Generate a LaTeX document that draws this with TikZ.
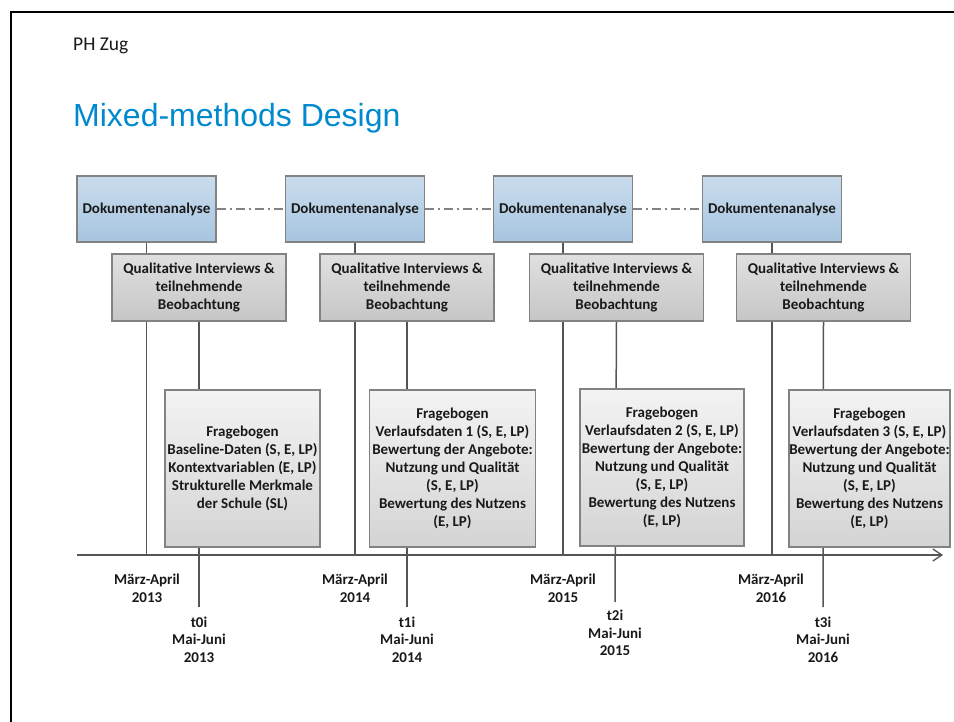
\documentclass[tikz,border=0pt]{standalone}
\usepackage{fontspec}
\setmainfont{Carlito}
\newfontfamily\arialfont{Liberation Sans}
\usetikzlibrary{arrows.meta,backgrounds}
\definecolor{titleblue}{RGB}{0,137,207}
\definecolor{dokT}{RGB}{202,220,237}
\definecolor{dokB}{RGB}{166,197,224}
\definecolor{qualT}{RGB}{224,224,224}
\definecolor{qualB}{RGB}{198,198,198}
\definecolor{frT}{RGB}{243,243,243}
\definecolor{frB}{RGB}{212,212,212}
\definecolor{boxline}{RGB}{130,130,130}
\definecolor{conline}{RGB}{85,85,85}
\definecolor{txt}{RGB}{25,25,25}
\tikzset{
  basebox/.style={draw=boxline, line width=1.1pt, align=center, text=txt,
    font=\bfseries\fontsize{15}{18}\selectfont, inner sep=0pt},
  dokbox/.style={basebox, top color=dokT, bottom color=dokB,
    minimum width=139pt, minimum height=66pt},
  qualbox/.style={basebox, top color=qualT, bottom color=qualB,
    minimum width=174pt, minimum height=67pt},
  frbox/.style={basebox, top color=frT, bottom color=frB, minimum height=157pt},
  vline/.style={draw=conline, line width=1.5pt},
  dashdotline/.style={draw=boxline, line width=1.3pt, dash pattern=on 9pt off 4pt on 2pt off 4pt},
  lbl/.style={align=center, text=txt, font=\bfseries\fontsize{15}{17.5}\selectfont, inner sep=0pt}
}
\begin{document}
\begin{tikzpicture}[x=1pt,y=-1pt]
\useasboundingbox (0,0) rectangle (954,722);
% frame
\draw[line width=2.6pt] (10.8,723) -- (10.8,12) -- (955,12);
% header
\node[anchor=base west, inner sep=0pt, font=\fontsize{19.5}{22}\selectfont, text=txt] (ph) at (73,51) {PH Zug};
\node[anchor=base west, inner sep=0pt, font=\arialfont\fontsize{32}{36}\selectfont, text=titleblue] (title) at (73,127) {Mixed-methods Design};
% Dokumentenanalyse boxes
\node[dokbox] (d1) at (146.5,209) {Dokumentenanalyse};
\node[dokbox] (d2) at (355,209) {Dokumentenanalyse};
\node[dokbox] (d3) at (563,209) {Dokumentenanalyse};
\node[dokbox] (d4) at (772,209) {Dokumentenanalyse};
% Qualitative boxes
\node[qualbox] (q1) at (199,287.5) {Qualitative Interviews \&\\teilnehmende\\Beobachtung};
\node[qualbox] (q2) at (407,287.5) {Qualitative Interviews \&\\teilnehmende\\Beobachtung};
\node[qualbox] (q3) at (616.5,287.5) {Qualitative Interviews \&\\teilnehmende\\Beobachtung};
\node[qualbox] (q4) at (823.5,287.5) {Qualitative Interviews \&\\teilnehmende\\Beobachtung};
% Fragebogen boxes
\node[frbox, minimum width=155pt] (f1) at (242.5,468.5) {Fragebogen\\Baseline-Daten (S, E, LP)\\Kontextvariablen (E, LP)\\Strukturelle Merkmale\\der Schule (SL)};
\node[frbox, minimum width=166pt] (f2) at (452.5,468.5) {Fragebogen\\Verlaufsdaten 1 (S, E, LP)\\Bewertung der Angebote:\\Nutzung und Qualität\\(S, E, LP)\\Bewertung des Nutzens\\(E, LP)};
\node[frbox, minimum width=164pt] (f3) at (662,467.5) {Fragebogen\\Verlaufsdaten 2 (S, E, LP)\\Bewertung der Angebote:\\Nutzung und Qualität\\(S, E, LP)\\Bewertung des Nutzens\\(E, LP)};
\node[frbox, minimum width=161pt] (f4) at (869.5,468.5) {Fragebogen\\Verlaufsdaten 3 (S, E, LP)\\Bewertung der Angebote:\\Nutzung und Qualität\\(S, E, LP)\\Bewertung des Nutzens\\(E, LP)};
% timeline coordinates
\coordinate (tlS) at (77,555);
\coordinate (tlE) at (943,555);
\coordinate (b1) at (199,607);
\coordinate (b2) at (407,607);
\coordinate (b3) at (615,602);
\coordinate (b4) at (823,607);
\begin{scope}[on background layer]
  \foreach \i in {1,2,3,4} {
    \draw[vline] (d\i.south) -- (d\i.south |- tlS);
    \draw[vline] (q\i.south) -- (b\i);
  }
  \draw[dashdotline] (d1.east) -- (d2.west);
  \draw[dashdotline] (d2.east) -- (d3.west);
  \draw[dashdotline] (d3.east) -- (d4.west);
\end{scope}
\draw[vline, -{Straight Barb[length=9pt,width=12pt,line width=1.3pt]}] (tlS) -- (tlE);
% labels
\node[lbl] (m1) at (147,588.5) {März-April\\2013};
\node[lbl] (m2) at (355,588.5) {März-April\\2014};
\node[lbl] (m3) at (563,588.5) {März-April\\2015};
\node[lbl] (m4) at (771,588.5) {März-April\\2016};
\node[lbl] (t1) at (199,639.5) {t0i\\Mai-Juni\\2013};
\node[lbl] (t2) at (407,639.5) {t1i\\Mai-Juni\\2014};
\node[lbl] (t3) at (615,633) {t2i\\Mai-Juni\\2015};
\node[lbl] (t4) at (823,639.5) {t3i\\Mai-Juni\\2016};
\end{tikzpicture}
\end{document}
